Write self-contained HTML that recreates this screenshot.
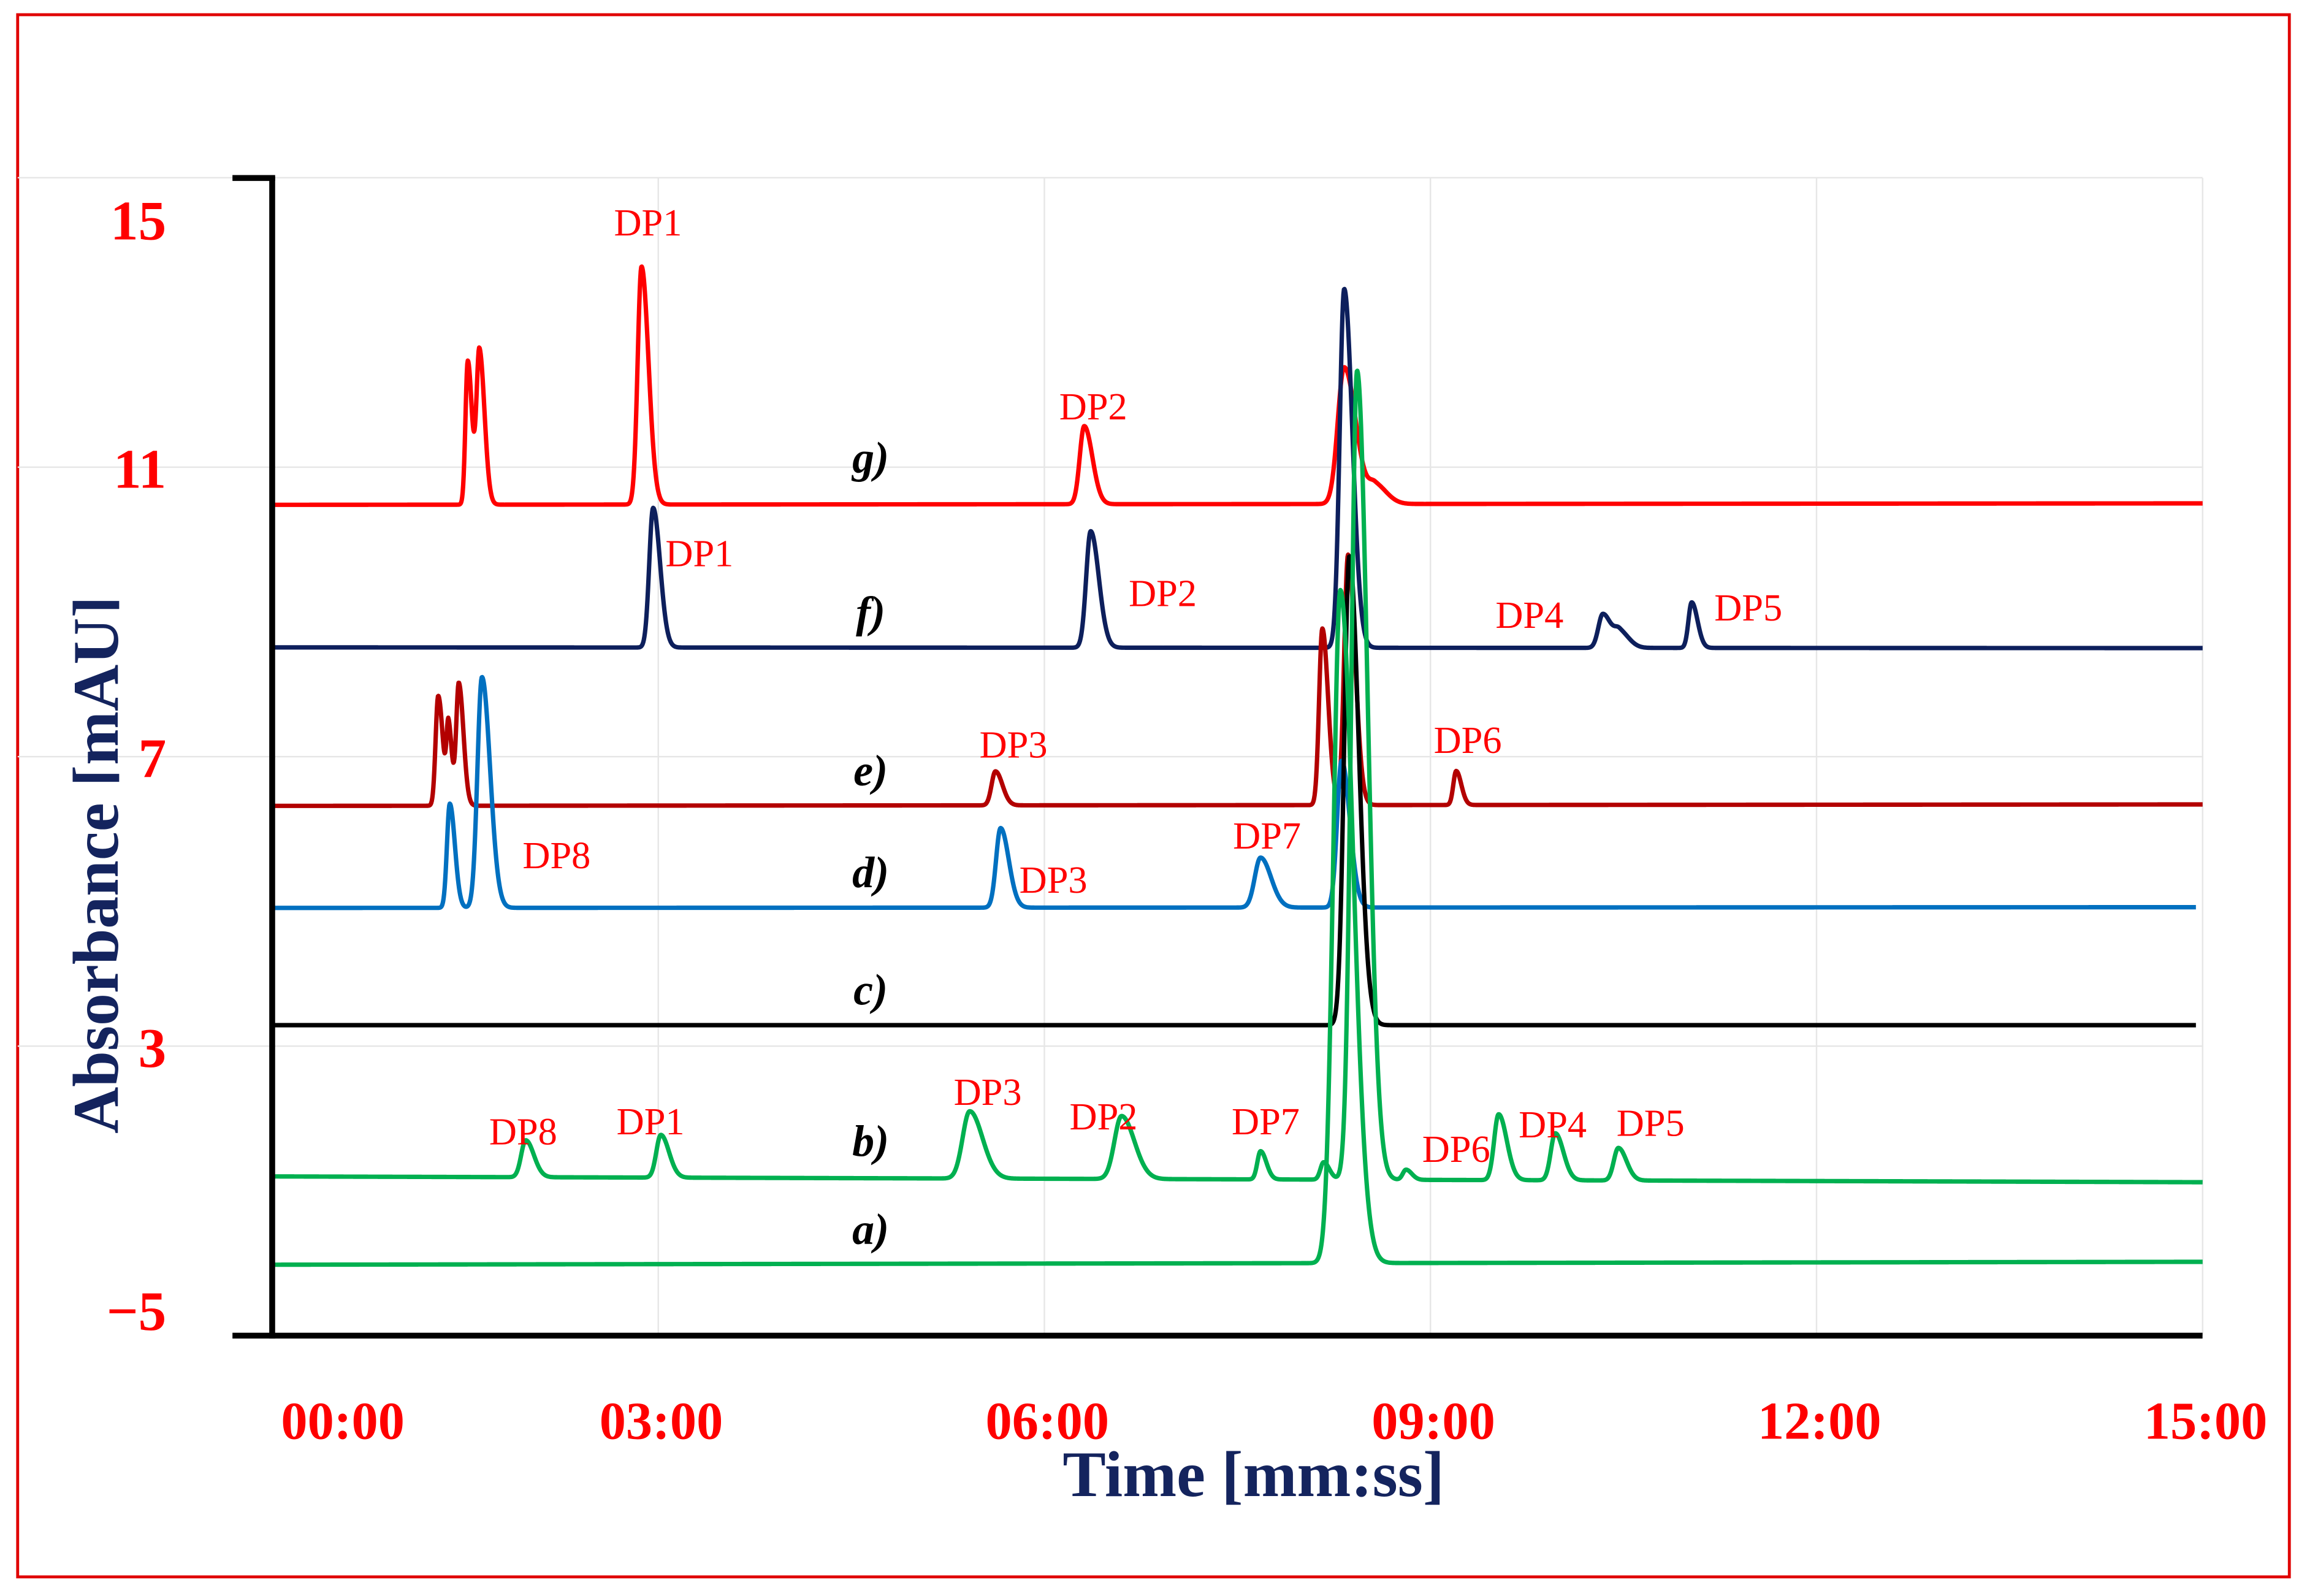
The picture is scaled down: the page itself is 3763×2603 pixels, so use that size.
<!DOCTYPE html>
<html><head><meta charset="utf-8"><style>
html,body{margin:0;padding:0;background:#fff;}
svg{display:block;}
</style></head><body>
<svg id="chart" width="3763" height="2603" viewBox="0 0 1568 1085" preserveAspectRatio="none" xmlns="http://www.w3.org/2000/svg">
<rect x="12" y="10" width="1544" height="1062" fill="#fff" stroke="#e00000" stroke-width="2"/>
<g id="grid"></g>
<g id="traces"></g>
<g id="labels"></g>
<line x1="185" y1="120" x2="185" y2="910" stroke="#000" stroke-width="4"/>
<line x1="158" y1="121" x2="187" y2="121" stroke="#000" stroke-width="4"/>
<line x1="158" y1="908" x2="1497" y2="908" stroke="#000" stroke-width="4"/>
<g id="ticks"></g>
<text x="852" y="1017" text-anchor="middle" font-family="Liberation Serif, serif" font-weight="bold" font-size="44" fill="#14245e">Time [mm:ss]</text>
<clipPath id="yclip"><rect x="0" y="0" width="81" height="1085"/></clipPath>
<g clip-path="url(#yclip)">
<text transform="translate(80,588) rotate(-90)" text-anchor="middle" font-family="Liberation Serif, serif" font-weight="bold" font-size="44" fill="#14245e">Absorbance [mAU]</text>
</g>
</svg>
<script>
const xTicks=[0,3,6,9,12,15];
const xTickLabels=['00:00','03:00','06:00','09:00','12:00','15:00'];
const yTicks=[15,11,7,3,-1];
const yTickLabels=['15','11','7','3','\u22125'];
const seriesNames=['g','f','e','d','c','b','a'];
const seriesColors=['#ff0000','#0d1f5c','#b30000','#0070c0','#000000','#00b050','#00b050'];
const baselines=[10.48,8.51,6.32,4.91,3.29,1.20,-0.02];
const baselineEnd=[10.5,8.5,6.34,4.92,3.29,1.12,0.02];
// peaks: [time(min), height, width]
const peaksG=[[1.52,1.99,0.018],[1.61,2.13,0.022],[2.87,3.29,0.03],[6.31,1.08,0.035],[8.33,1.89,0.05],[8.57,0.26,0.05]];
const peaksF=[[2.96,1.93,0.03],[6.36,1.61,0.035],[8.33,4.96,0.035],[10.34,0.47,0.035],[10.47,0.22,0.04],[11.03,0.63,0.025]];
const peaksE=[[1.29,1.52,0.02],[1.37,1.08,0.015],[1.45,1.69,0.02],[5.62,0.47,0.03],[8.16,2.44,0.025],[8.36,3.46,0.03],[9.2,0.47,0.022]];
const peaksD=[[1.38,1.44,0.022],[1.63,3.19,0.035],[5.66,1.10,0.035],[7.68,0.69,0.045],[8.31,2.03,0.035]];
const peaksC=[[8.37,6.48,0.04]];
const peaksB=[[1.97,0.51,0.035],[3.02,0.59,0.035],[5.42,0.93,0.055],[6.6,0.87,0.055],[7.68,0.39,0.025],[8.17,0.24,0.025],[8.43,11.18,0.045],[8.81,0.14,0.025],[9.53,0.91,0.035],[9.97,0.65,0.035],[10.46,0.45,0.035]];
const peaksA=[[8.3,9.3,0.055]];
const allPeaks=[peaksG,peaksF,peaksE,peaksD,peaksC,peaksB,peaksA];
const seriesLabelText=['g)','f)','e)','d)','c)','b)','a)'];
// annotations: [text, time, value]
const annText=['DP1','DP2','DP1','DP2','DP4','DP5','DP3','DP6','DP8','DP3','DP7','DP8','DP1','DP3','DP2','DP7','DP6','DP4','DP5'];
const annTime=[2.92,6.38,3.32,6.92,9.77,11.47,5.76,9.29,2.21,6.07,7.73,1.95,2.94,5.56,6.46,7.72,9.20,9.95,10.71];
const annValue=[14.2,11.66,9.63,9.08,8.78,8.88,6.99,7.05,5.46,5.12,5.73,1.64,1.78,2.19,1.85,1.78,1.40,1.74,1.76];

const NS='http://www.w3.org/2000/svg';
const X=t=>185+t*87.47;
const Y=v=>908-(v+1)*49.2;
function mk(tag,attrs,parent){const e=document.createElementNS(NS,tag);for(const k in attrs)e.setAttribute(k,attrs[k]);parent.appendChild(e);return e;}
const grid=document.getElementById('grid'),traces=document.getElementById('traces'),labels=document.getElementById('labels'),ticks=document.getElementById('ticks');
yTicks.forEach((v,i)=>{
  if(i<4){const l=mk('line',{x1:12,x2:1497,y1:Y(v),y2:Y(v),stroke:'#e6e6e6','stroke-width':1},grid);
  
  }
  const t=mk('text',{x:113,y:Y(v)+(i==0?42:i==4?-4:14),'text-anchor':'end','font-family':'Liberation Serif, serif','font-weight':'bold','font-size':38,fill:'#ff0000'},ticks);
  t.textContent=yTickLabels[i];
  
  
});
xTicks.forEach((v,i)=>{
  if(i>0){const l=mk('line',{x1:X(v),x2:X(v),y1:121,y2:908,stroke:'#e6e6e6','stroke-width':1},grid);
  
  }
  const t=mk('text',{x:X(v)+(i==0?48:2),y:978,'text-anchor':'middle','font-family':'Liberation Serif, serif','font-weight':'bold','font-size':36,fill:'#ff0000'},ticks);
  t.textContent=xTickLabels[i];
  
  
});
function val(s,t){
  let v=baselines[s]+(baselineEnd[s]-baselines[s])*(t/15);
  for(const [c,h,w] of allPeaks[s]){
    const d=t-c; const sg=d<0?w:w*1.8;
    v+=h*Math.exp(-d*d/(2*sg*sg));
  }
  return v;
}
seriesNames.forEach((n,s)=>{
  let d='';const tEnd=(n=='d'||n=='c')?14.95:15;
  for(let t=0.02;t<=tEnd;t+=0.004){d+=(d?'L':'M')+X(t).toFixed(2)+','+Y(val(s,t)).toFixed(2);}
  const p=mk('path',{d:d,fill:'none',stroke:seriesColors[s],'stroke-width':3,'stroke-linejoin':'round'},traces);
  
  
  const lb=mk('text',{x:X(4.65),y:Y(baselines[s])-(s==0?22:14),'text-anchor':'middle','font-family':'Liberation Serif, serif','font-weight':'bold','font-style':'italic','font-size':30,fill:'#000'},labels);
  lb.textContent=seriesLabelText[s];
  
  
});
annText.forEach((tx,i)=>{
  const t=mk('text',{x:X(annTime[i]),y:Y(annValue[i]),'text-anchor':'middle','font-family':'Liberation Serif, serif','font-size':26,fill:'#ff0000'},labels);
  t.textContent=tx;
  
  
});
</script>
</body></html>
